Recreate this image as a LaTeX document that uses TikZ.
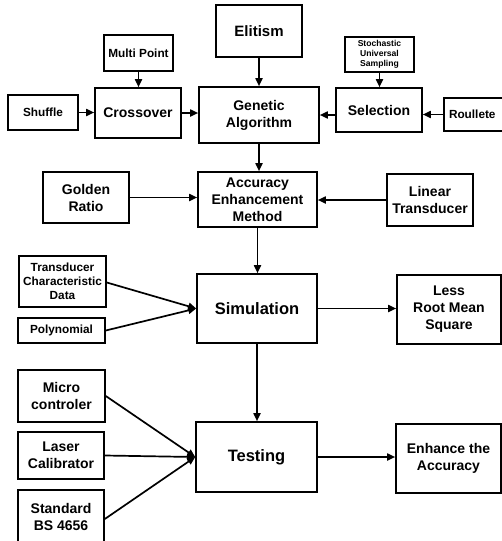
\documentclass[tikz,border=0pt]{standalone}
\usepackage{fontspec}
\setmainfont{Liberation Sans}
\usetikzlibrary{arrows.meta}
\tikzset{
  box/.style={draw, line width=1.6pt, fill=white, align=center, inner sep=1pt, font=\bfseries},
  big/.style={font=\fontsize{14}{17}\selectfont\bfseries},
  huge/.style={font=\fontsize{16.5}{19}\selectfont\bfseries},
  small/.style={font=\fontsize{11.8}{14}\selectfont\bfseries},
  tiny/.style={font=\fontsize{8.6}{9.8}\selectfont\bfseries},
  arr/.style={line width=1.7pt, -{Triangle[length=8pt,width=7pt]}}
}
\begin{document}
\begin{tikzpicture}[x=1pt,y=-1pt]
\useasboundingbox (0,0) rectangle (502,541);
\begin{scope}
\clip (0,0) rectangle (502,541);
\node[box,big,minimum width=86pt,minimum height=52pt] (elit) at (259,31) {\fontsize{15}{17}\selectfont Elitism};
\node[box,small,minimum width=69pt,minimum height=36pt] (multi) at (138.5,53) {Multi Point};
\node[box,big,minimum width=86pt,minimum height=50pt] (cross) at (138,113) {Crossover};
\node[box,small,minimum width=70pt,minimum height=35pt] (shuf) at (43,112.5) {Shuffle};
\node[box,big,minimum width=120pt,minimum height=56pt] (ga) at (259,115) {Genetic\\Algorithm};
\node[box,tiny,minimum width=69pt,minimum height=35pt] (stoch) at (379.5,54.5) {Stochastic\\Universal\\Sampling};
\node[box,big,minimum width=86pt,minimum height=44pt] (sel) at (379,110) {Selection};
\node[box,small,minimum width=70pt,minimum height=33pt,text width=60pt,align=left] (roul) at (479,114.5) {Roullete};
\node[box,big,minimum width=119pt,minimum height=55pt] (aem) at (257.5,199.5) {Accuracy\\Enhancement\\Method};
\node[box,big,minimum width=86pt,minimum height=51pt] (gold) at (86,197.5) {Golden\\Ratio};
\node[box,big,minimum width=86pt,minimum height=52pt] (lin) at (430,200) {Linear\\Transducer};
\node[box,small,minimum width=87pt,minimum height=51pt] (tcd) at (62.5,281.5) {Transducer\\Characteristic\\Data};
\node[box,huge,minimum width=120pt,minimum height=69pt] (sim) at (257,308.5) {Simulation};
\node[box,big,minimum width=104pt,minimum height=69pt] (lrms) at (449,309.5) {Less\\Root Mean\\Square};
\node[box,small,minimum width=87pt,minimum height=25pt] (poly) at (61.5,330.5) {Polynomial};
\node[box,big,minimum width=87pt,minimum height=52pt] (micro) at (61.5,396) {Micro\\controler};
\node[box,big,minimum width=86pt,minimum height=47pt] (laser) at (61,455.5) {Laser\\Calibrator};
\node[box,big,minimum width=86pt,minimum height=54pt] (std) at (61,517) {Standard\\BS 4656};
\node[box,huge,minimum width=121pt,minimum height=70pt] (test) at (256.5,457) {Testing};
\node[box,big,minimum width=105pt,minimum height=69pt] (enh) at (448.5,458.5) {Enhance the\\Accuracy};

\draw[arr] (elit.south) -- (ga.north);
\draw[arr] (multi.south) -- (multi.south |- cross.north);
\draw[arr] (shuf.east) -- (shuf.east -| cross.west);
\draw[arr] (cross.east) -- (cross.east -| ga.west);
\draw[arr] (sel.west |- ga.east) -- (ga.east);
\draw[arr] (roul.west) -- (roul.west -| sel.east);
\draw[arr] (stoch.south) -- (stoch.south |- sel.north);
\draw[arr] (ga.south) -- (ga.south |- aem.north);
\draw[arr] (gold.east) -- (gold.east -| aem.west);
\draw[arr] (lin.west) -- (lin.west -| aem.east);
\draw[arr] (aem.south) -- (aem.south |- sim.north);
\draw[arr] ([yshift=-1pt]tcd.east) -- (sim.west);
\draw[arr] (poly.east) -- (sim.west);
\draw[arr] (sim.east) -- (sim.east -| lrms.west);
\draw[arr] (sim.south) -- (sim.south |- test.north);
\draw[arr] (micro.east) -- (test.west);
\draw[arr] (laser.east) -- (test.west);
\draw[arr] ([yshift=-2pt]std.east) -- (test.west);
\draw[arr] (test.east) -- (test.east -| enh.west);
\end{scope}
\end{tikzpicture}
\end{document}
